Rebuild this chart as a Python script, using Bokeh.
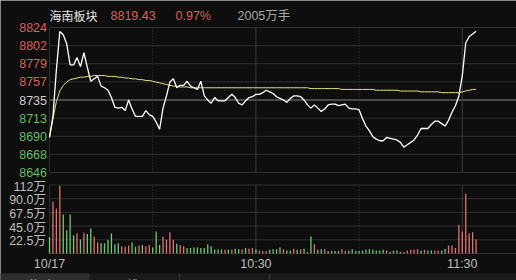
from bokeh.plotting import figure
from bokeh.models import Range1d
from bokeh.core.properties import value
from bokeh.embed import file_html
from bokeh.resources import INLINE

# ---------------- data ----------------
title_name = "海南板块"
last_price = "8819.43"
pct_change = "0.97%"
total_vol = "2005万手"

prev_close = 8735.0
price_step = 22.25
price_tick_labels = ["8824", "8802", "8779", "8757", "8735", "8713", "8690", "8668", "8646"]
vol_tick_values = [112.5, 90.0, 67.5, 45.0, 22.5]
vol_tick_labels = ["112万", "90.0万", "67.5万", "45.0万", "22.5万"]
time_ticks = [0, 60, 120]
time_labels = ["10/17", "10:30", "11:30"]
tab_labels = ["分时图", "K线图", "日K图"]

# minute-by-minute price (9:30 -> 13:04)
price = [8689, 8715, 8772, 8819, 8815, 8804, 8778, 8778, 8787, 8776,
         8793, 8775, 8758, 8761, 8764, 8752, 8750, 8747, 8738, 8726,
         8725, 8726, 8722, 8735, 8724, 8715, 8715, 8715, 8722, 8717,
         8715, 8708, 8699, 8725, 8740, 8757, 8761, 8750, 8753, 8753,
         8758, 8752, 8750, 8748, 8758, 8740, 8735, 8731, 8738, 8734,
         8734, 8734, 8738, 8742, 8738, 8731, 8729, 8734, 8738, 8739,
         8742, 8742, 8744, 8747, 8745, 8743, 8739, 8737, 8735, 8732,
         8737, 8740, 8740, 8739, 8735, 8729, 8725, 8729, 8725, 8721,
         8724, 8729, 8730, 8730, 8728, 8729, 8730, 8725, 8724, 8724,
         8723, 8712, 8703, 8697, 8690, 8687, 8685, 8685, 8689, 8688,
         8687, 8686, 8683, 8677, 8680, 8683, 8686, 8692, 8700, 8700,
         8700, 8705, 8709, 8709, 8706, 8703, 8710, 8720, 8728, 8740,
         8765, 8805, 8813, 8816, 8819.43]

# average-price line
avg_price = [8689, 8712, 8733, 8746, 8753, 8757, 8760, 8761, 8762, 8763,
             8763, 8764, 8764, 8765, 8765, 8765, 8765, 8764, 8764, 8764,
             8763, 8763, 8762, 8762, 8761, 8761, 8760, 8760, 8759, 8759,
             8758, 8757, 8756, 8755, 8754, 8753, 8752, 8752, 8751, 8751,
             8751, 8750, 8750, 8750, 8750, 8750, 8750, 8750, 8750, 8750,
             8750, 8750, 8750, 8750, 8750, 8750, 8750, 8750, 8750, 8750,
             8750, 8750, 8750, 8750, 8750, 8750, 8750, 8750, 8750, 8750,
             8750, 8750, 8750, 8750, 8750, 8750, 8749, 8749, 8749, 8749,
             8749, 8749, 8749, 8749, 8749, 8748, 8748, 8748, 8748, 8748,
             8748, 8748, 8748, 8748, 8748, 8747, 8747, 8747, 8747, 8747,
             8747, 8747, 8746, 8746, 8746, 8746, 8746, 8746, 8745, 8745,
             8745, 8745, 8745, 8745, 8744, 8744, 8744, 8744, 8744, 8744,
             8745, 8746, 8747, 8748, 8748]

# volume per minute (万手)
volume = [27, 85, 74, 111, 64, 38, 64, 30, 33, 23,
          34, 32, 41, 28, 18, 17, 17, 22, 33, 15,
          17, 12, 11, 13, 18, 11, 13, 14, 12, 14,
          10, 36, 14, 28, 22, 35, 22, 16, 14, 12,
          9, 9, 10, 10, 9, 9, 15, 12, 6.5, 6.5,
          6.5, 6, 6.5, 6, 7.6, 7, 7, 9, 8, 9,
          7, 5, 4, 4, 6, 7, 7, 10, 7, 5,
          5, 8, 6, 7, 8, 3, 28, 15, 6, 7,
          7, 4, 4, 4, 4, 7, 4, 5, 7, 4,
          4, 5, 6, 7, 6, 5, 5, 6, 5, 3,
          5, 5, 3, 3, 5, 6, 6, 7, 5, 6,
          5, 5, 5, 5, 5, 8, 13, 13, 9, 47,
          36, 98, 33, 35, 23]

# 1 = up (red), 0 = down (green)
vol_up = [0, 1, 1, 1, 0, 0, 0, 0, 1, 0,
          1, 0, 0, 1, 1, 0, 0, 0, 0, 0,
          0, 1, 1, 1, 0, 0, 1, 0, 1, 1,
          0, 0, 0, 1, 1, 1, 1, 0, 1, 1,
          0, 0, 0, 0, 0, 0, 0, 0, 0, 0,
          0, 1, 0, 1, 0, 0, 1, 0, 1, 1,
          0, 1, 1, 1, 0, 0, 0, 0, 1, 0,
          0, 1, 0, 1, 0, 1, 0, 1, 0, 0,
          1, 0, 0, 0, 0, 1, 1, 0, 0, 0,
          0, 0, 0, 0, 0, 0, 0, 0, 1, 0,
          0, 0, 0, 1, 1, 1, 1, 1, 0, 1,
          0, 0, 1, 1, 0, 0, 1, 1, 1, 1,
          1, 1, 1, 1, 1]

minutes = list(range(len(price)))

# ---------------- layout / styles ----------------
W, H = 516, 280
PX_PER_MIN = 3.44
X0 = 49.0
BG = "#0e0e0e"
GRID = "#2f2f2f"
RED = "#dc5f5f"
GREEN = "#62bd62"
GRAY = "#bdbdbd"
NUM_FONT = value("Liberation Sans, Noto Sans CJK SC")
CJK_FONT = value("Noto Sans CJK SC")

x_start = -X0 / PX_PER_MIN
x_end = (W - X0) / PX_PER_MIN

def make_range(pa, va, pb, vb):
    per = (va - vb) / (pb - pa)
    return va - (H - pa) * per, va + pa * per

levels = [prev_close + price_step * k for k in range(4, -5, -1)]
p_lo, p_hi = make_range(27.0, levels[0], 172.0, levels[-1])
v_lo, v_hi = make_range(253.0, 0.0, 184.5, 112.5)

def py(pix):
    return p_hi - pix * (p_hi - p_lo) / H

def px(pix):
    return (pix - X0) / PX_PER_MIN

p = figure(width=W, height=H, x_range=Range1d(x_start, x_end),
           y_range=Range1d(p_lo, p_hi), output_backend="svg",
           toolbar_location=None, min_border=0,
           x_axis_location=None, y_axis_location=None,
           background_fill_color=BG, border_fill_color=BG,
           outline_line_color=None)
p.grid.visible = False
p.extra_y_ranges = {"vol": Range1d(v_lo, v_hi)}

# price grid
for i, lv in enumerate(levels):
    if i == 4:
        continue
    p.segment(x0=0, x1=x_end, y0=lv, y1=lv, line_color=GRID, line_width=1)
p.segment(x0=0, x1=x_end, y0=levels[4], y1=levels[4], line_color="#4a4a4a", line_width=2)
p.segment(x0=0, x1=0, y0=levels[-1], y1=levels[0], line_color=GRID)

# volume grid
for v in [0] + vol_tick_values:
    p.segment(x0=0, x1=x_end, y0=v, y1=v, line_color=GRID, y_range_name="vol")
p.segment(x0=0, x1=0, y0=0, y1=vol_tick_values[0], line_color=GRID, y_range_name="vol")

# vertical time lines
for t, dash in [(30, "1 2"), (60, "solid"), (90, "1 2"), (120, "solid")]:
    col = "#3c3c3c"
    p.segment(x0=t, x1=t, y0=levels[-1], y1=levels[0], line_color=col, line_dash=dash)
    p.segment(x0=t, x1=t, y0=0, y1=vol_tick_values[0], line_color=col, line_dash=dash,
              y_range_name="vol")

# volume bars
bar_colors = ["#e07272" if u else "#72c872" for u in vol_up]
p.vbar(x=minutes, top=volume, bottom=0, width=0.38, fill_color=bar_colors,
       line_color=None, y_range_name="vol")

# lines
p.line(minutes, avg_price, line_color="#e4e48a", line_width=1)
p.line(minutes, price, line_color="#ffffff", line_width=1.3)

# price labels
lab_colors = [RED] * 4 + ["#cfcfcf"] + [GREEN] * 4
p.text(x=[px(46.5)] * 9, y=levels, text=price_tick_labels, text_color=lab_colors,
       text_font=NUM_FONT, text_font_size="12.5px", text_align="right",
       text_baseline="middle")

# volume labels
p.text(x=[px(45.5)] * 5, y=vol_tick_values, text=vol_tick_labels, text_color=GRAY,
       text_font=NUM_FONT, text_font_size="12.5px", text_align="right",
       text_baseline="middle", y_offset=1.5, y_range_name="vol")

# time labels
p.text(x=time_ticks, y=[py(263.5)] * 3, text=time_labels, text_color=GRAY,
       text_font=NUM_FONT, text_font_size="12.5px", text_align="center",
       text_baseline="middle")

# header
p.text(x=[px(49)], y=[py(15)], text=[title_name], text_color="#e6e6e6",
       text_font=CJK_FONT, text_font_size="12px", text_baseline="middle")
p.text(x=[px(110), px(175)], y=[py(15)] * 2, text=[last_price, pct_change],
       text_color=RED, text_font=NUM_FONT, text_font_size="12.5px",
       text_baseline="middle")
p.text(x=[px(237)], y=[py(15)], text=[total_vol], text_color="#a8a8a8",
       text_font=NUM_FONT, text_font_size="12.5px", text_baseline="middle")

# bottom tab bar
p.quad(left=x_start, right=x_end, bottom=py(280), top=py(273), fill_color="#1a1a1a",
       line_color=None)
p.quad(left=x_start, right=px(89), bottom=py(280), top=py(273), fill_color="#2e2e2e",
       line_color=None)
for xb in [179, 269]:
    p.segment(x0=px(xb), x1=px(xb), y0=py(280), y1=py(273), line_color="#3a3a3a")
p.text(x=[px(45), px(134), px(223)], y=[py(275.5)] * 3, text=tab_labels,
       text_color=["#e6e6e6", "#b5b5b5", "#b5b5b5"], text_font=CJK_FONT,
       text_font_size="12px", text_align="center", text_baseline="top")

open("out.html", "w").write(file_html(p, INLINE))
